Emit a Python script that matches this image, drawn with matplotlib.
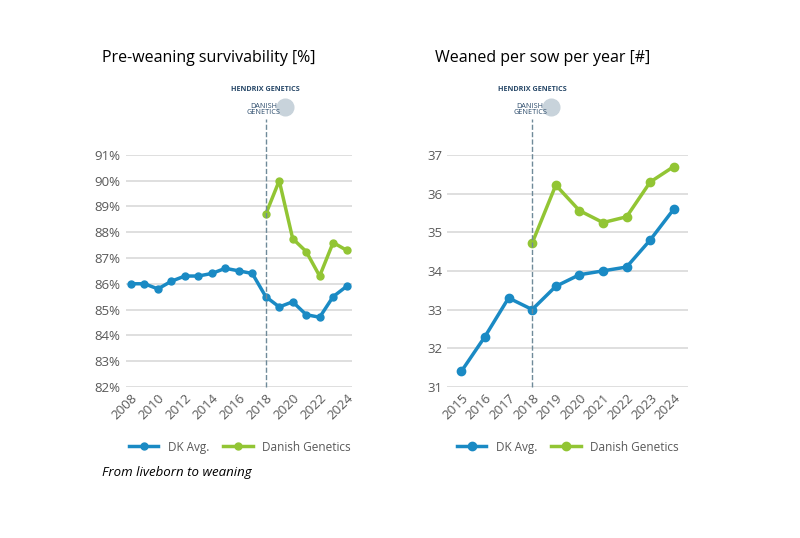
import matplotlib.pyplot as plt
from matplotlib.ticker import FuncFormatter
from matplotlib.transforms import offset_copy

plt.rcParams['font.family'] = ['Open Sans', 'DejaVu Sans']

BLUE = '#1a8ac4'
GREEN = '#92c534'
GRID = '#d9d9d9'
TICK = '#595959'

# Pre-weaning survivability
years_l = list(range(2008, 2025))
dk_surv = [86.0, 86.0, 85.8, 86.1, 86.3, 86.3, 86.4, 86.6, 86.5, 86.4,
           85.5, 85.1, 85.3, 84.8, 84.7, 85.5, 85.9]
years_dg = list(range(2018, 2025))
dg_surv = [88.7, 90.0, 87.75, 87.25, 86.3, 87.6, 87.3]

# Weaned per sow per year
years_r = list(range(2015, 2025))
dk_wean = [31.4, 32.3, 33.3, 33.0, 33.6, 33.9, 34.0, 34.1, 34.8, 35.6]
dg_wean = [34.72, 36.22, 35.56, 35.25, 35.4, 36.3, 36.7]

fig = plt.figure(figsize=(8, 5.38), dpi=100)
ax1 = fig.add_axes([0.157, 0.281, 0.283, 0.431])
ax2 = fig.add_axes([0.559, 0.281, 0.301, 0.431])


def style(ax, ylim, xlim, xticks):
    ax.set_ylim(*ylim)
    ax.set_xlim(*xlim)
    ax.set_xticks(xticks)
    ax.grid(axis='y', color=GRID, linewidth=1.2)
    ax.set_axisbelow(True)
    for s in ax.spines.values():
        s.set_visible(False)
    ax.tick_params(length=0, colors=TICK, labelsize=9.5)
    for lbl in ax.get_xticklabels():
        lbl.set_rotation(45)
        lbl.set_ha('right')
        lbl.set_rotation_mode('anchor')
    tr = ax.get_xaxis_transform()
    # dashed 2018 marker going up to the logo
    ax.plot([2018, 2018], [0, 1.155], transform=tr,
            color='#6f8a99', linestyle='--', linewidth=1, clip_on=False)
    # logo approximation
    ax.text(2018, 1.275, 'HENDRIX GENETICS', transform=tr, ha='center',
            fontsize=5.2, fontweight='bold', color='#2a4a6a')
    ax.text(2018, 1.175, 'DANISH\nGENETICS', transform=offset_copy(tr, fig, x=-2, units='dots'),
            ha='center', fontsize=5.2, color='#2a4a6a', linespacing=0.9)
    ax.plot([2018], [1.205], transform=offset_copy(tr, fig, x=19, units='dots'),
            marker='o', markersize=12, color='#c8d3db', clip_on=False)


ax1.plot(years_l, dk_surv, color=BLUE, marker='o', markersize=5, linewidth=2.5, label='DK Avg.')
ax1.plot(years_dg, dg_surv, color=GREEN, marker='o', markersize=5, linewidth=2.5, label='Danish Genetics')
style(ax1, (82, 91), (2007.6, 2024.4), range(2008, 2025, 2))
ax1.set_yticks(range(82, 92))
ax1.yaxis.set_major_formatter(FuncFormatter(lambda v, p: f'{v:.0f}%'))

ax2.plot(years_r, dk_wean, color=BLUE, marker='o', markersize=6, linewidth=2.5, label='DK Avg.')
ax2.plot(years_dg, dg_wean, color=GREEN, marker='o', markersize=6, linewidth=2.5, label='Danish Genetics')
style(ax2, (31, 37), (2014.4, 2024.6), years_r)
ax2.set_yticks(range(31, 38))

fig.text(0.128, 0.893, 'Pre-weaning survivability [%]', fontsize=11.5, va='center')
fig.text(0.544, 0.893, 'Weaned per sow per year [#]', fontsize=11.5, va='center')

for ax, x in ((ax1, 0.30), (ax2, 0.71)):
    h, l = ax.get_legend_handles_labels()
    fig.legend(h, l, loc='center', bbox_to_anchor=(x, 0.169), ncol=2, frameon=False,
               fontsize=8.5, handlelength=2.5, columnspacing=1.2, labelcolor=TICK)

fig.text(0.128, 0.122, 'From liveborn to weaning', fontsize=9.5, style='italic', va='center')

fig.savefig('out.png', dpi=100)
